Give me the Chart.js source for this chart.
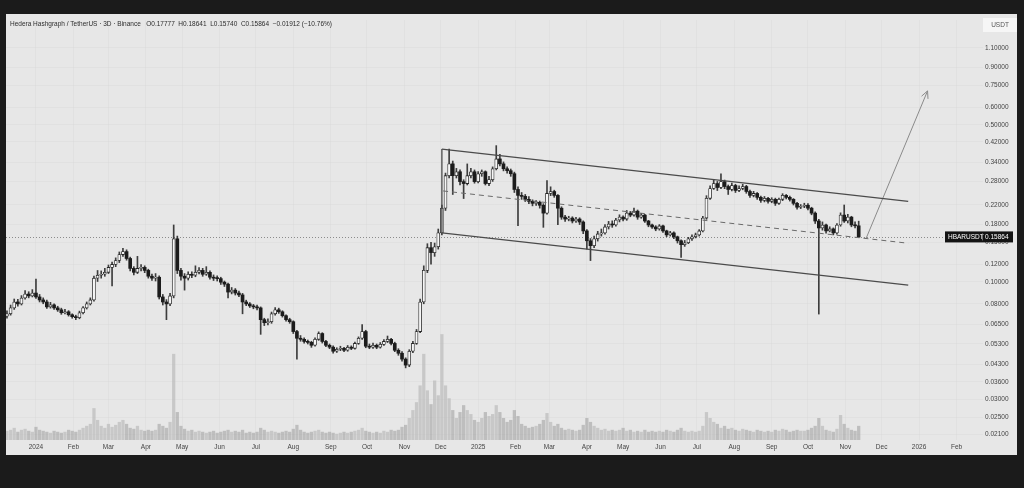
<!DOCTYPE html>
<html>
<head>
<meta charset="utf-8">
<script src="https://cdn.jsdelivr.net/npm/chart.js@4.4.1/dist/chart.umd.min.js"></script>
<style>
  html, body { margin: 0; padding: 0; width: 1024px; height: 488px; overflow: hidden; background: #1b1b1b; }
  #panel { position: absolute; left: 6px; top: 14px; width: 1011px; height: 441px; background: #e7e7e7; }
  #chart { position: absolute; left: 0; top: 0; }
</style>
</head>
<body>
<div id="panel"><canvas id="chart" width="1011" height="441"></canvas></div>
<script>
// HBAR/USDT 3D candles, first candle 2023-12-08, one every 3 days
const symbol = 'HBARUSDT';
const headerText = 'Hedera Hashgraph / TetherUS · 3D · Binance   O0.17777  H0.18641  L0.15740  C0.15864  −0.01912 (−10.76%)';
const startDate = '2023-12-08';
const firstOpen = 0.0705;

const closes = [
    0.0722, 0.0767, 0.0815, 0.0799, 0.0849, 0.0884, 0.0867, 0.0893, 0.0858, 0.0832,
    0.0815, 0.0775, 0.0791, 0.0767, 0.0752, 0.0730, 0.0737, 0.0715, 0.0701, 0.0694,
    0.0730, 0.0767, 0.0799, 0.0832, 0.1040, 0.1071, 0.1082, 0.1104, 0.1161, 0.1197,
    0.1246, 0.1324, 0.1365, 0.1272, 0.1149, 0.1104, 0.1149, 0.1161, 0.1126, 0.1061,
    0.1040, 0.1050, 0.0858, 0.0815, 0.0799, 0.0867, 0.1556, 0.1126, 0.1061, 0.1040,
    0.1082, 0.1071, 0.1104, 0.1126, 0.1082, 0.1104, 0.1050, 0.1040, 0.1035, 0.0998,
    0.0978, 0.0902, 0.0920, 0.0893, 0.0876, 0.0815, 0.0799, 0.0783, 0.0775, 0.0767,
    0.0680, 0.0659, 0.0666, 0.0722, 0.0752, 0.0737, 0.0708, 0.0680, 0.0666, 0.0602,
    0.0562, 0.0556, 0.0544, 0.0539, 0.0523, 0.0556, 0.0590, 0.0544, 0.0523, 0.0513,
    0.0492, 0.0502, 0.0507, 0.0497, 0.0513, 0.0507, 0.0533, 0.0562, 0.0602, 0.0518,
    0.0513, 0.0523, 0.0513, 0.0528, 0.0544, 0.0556, 0.0533, 0.0497, 0.0482, 0.0454,
    0.0427, 0.0492, 0.0533, 0.0602, 0.0815, 0.1126, 0.1421, 0.1351, 0.1435, 0.1653,
    0.2129, 0.2970, 0.3352, 0.2970, 0.3092, 0.2795, 0.2740, 0.2970, 0.3092, 0.2795,
    0.3030, 0.3092, 0.2740, 0.2853, 0.3188, 0.3526, 0.3352, 0.3188, 0.3125, 0.3030,
    0.2579, 0.2427, 0.2403, 0.2331, 0.2284, 0.2238, 0.2261, 0.2194, 0.2024, 0.2476,
    0.2526, 0.2427, 0.2129, 0.1943, 0.1905, 0.1924, 0.1867, 0.1905, 0.1848, 0.1687,
    0.1525, 0.1450, 0.1556, 0.1636, 0.1653, 0.1757, 0.1811, 0.1793, 0.1886, 0.1943,
    0.1905, 0.2024, 0.1984, 0.2065, 0.1943, 0.1984, 0.1867, 0.1793, 0.1757, 0.1722,
    0.1775, 0.1687, 0.1620, 0.1653, 0.1588, 0.1525, 0.1465, 0.1495, 0.1556, 0.1588,
    0.1620, 0.1687, 0.1924, 0.2355, 0.2605, 0.2740, 0.2631, 0.2795, 0.2658, 0.2579,
    0.2686, 0.2553, 0.2605, 0.2658, 0.2526, 0.2427, 0.2476, 0.2379, 0.2307, 0.2355,
    0.2284, 0.2331, 0.2238, 0.2331, 0.2427, 0.2379, 0.2331, 0.2238, 0.2150, 0.2172,
    0.2194, 0.2129, 0.2024, 0.1867, 0.1739, 0.1793, 0.1687, 0.1722, 0.1653, 0.1793,
    0.1984, 0.1867, 0.1943, 0.1793, 0.17777, 0.15864
];

const highs = [
    0.0745, 0.0790, 0.0840, 0.0838, 0.0870, 0.0915, 0.0905, 0.0925, 0.1030, 0.0880,
    0.0850, 0.0830, 0.0812, 0.0800, 0.0780, 0.0765, 0.0755, 0.0746, 0.0722, 0.0712,
    0.0742, 0.0778, 0.0815, 0.0850, 0.1062, 0.1125, 0.1120, 0.1150, 0.1190, 0.1225,
    0.1280, 0.1360, 0.1410, 0.1390, 0.1290, 0.1170, 0.1300, 0.1195, 0.1180, 0.1140,
    0.1085, 0.1090, 0.1065, 0.0880, 0.0835, 0.0890, 0.1793, 0.1600, 0.1150, 0.1090,
    0.1110, 0.1110, 0.1180, 0.1160, 0.1150, 0.1170, 0.1120, 0.1075, 0.1065, 0.1050,
    0.1010, 0.0990, 0.0945, 0.0935, 0.0910, 0.0890, 0.0830, 0.0810, 0.0795, 0.0790,
    0.0775, 0.0690, 0.0685, 0.0735, 0.0770, 0.0765, 0.0745, 0.0715, 0.0690, 0.0672,
    0.0610, 0.0578, 0.0565, 0.0552, 0.0545, 0.0565, 0.0600, 0.0595, 0.0550, 0.0530,
    0.0520, 0.0510, 0.0518, 0.0512, 0.0522, 0.0520, 0.0540, 0.0570, 0.0646, 0.0610,
    0.0530, 0.0535, 0.0530, 0.0538, 0.0555, 0.0575, 0.0562, 0.0540, 0.0505, 0.0490,
    0.0460, 0.0500, 0.0545, 0.0615, 0.0840, 0.1180, 0.1480, 0.1500, 0.1490, 0.1720,
    0.2200, 0.3050, 0.3900, 0.3450, 0.3200, 0.3150, 0.2850, 0.3350, 0.3200, 0.3150,
    0.3100, 0.3150, 0.3120, 0.2950, 0.3250, 0.4040, 0.3700, 0.3420, 0.3250, 0.3180,
    0.3080, 0.2650, 0.2500, 0.2450, 0.2400, 0.2320, 0.2300, 0.2290, 0.2230, 0.2825,
    0.2650, 0.2560, 0.2450, 0.2160, 0.1980, 0.1960, 0.1950, 0.1940, 0.1930, 0.1870,
    0.1710, 0.1560, 0.1600, 0.1680, 0.1720, 0.1800, 0.1860, 0.1870, 0.1920, 0.1990,
    0.1970, 0.2080, 0.2060, 0.2130, 0.2090, 0.2020, 0.2000, 0.1880, 0.1810, 0.1780,
    0.1800, 0.1790, 0.1700, 0.1680, 0.1670, 0.1600, 0.1540, 0.1530, 0.1580, 0.1620,
    0.1650, 0.1710, 0.1960, 0.2420, 0.2680, 0.2850, 0.2800, 0.3030, 0.2840, 0.2700,
    0.2750, 0.2720, 0.2680, 0.2720, 0.2690, 0.2560, 0.2530, 0.2500, 0.2410, 0.2400,
    0.2380, 0.2370, 0.2360, 0.2360, 0.2470, 0.2450, 0.2410, 0.2350, 0.2260, 0.2210,
    0.2240, 0.2230, 0.2150, 0.2050, 0.1900, 0.1850, 0.1810, 0.1760, 0.1740, 0.1820,
    0.2030, 0.2200, 0.2000, 0.1960, 0.1850, 0.18641
];

const lows = [
    0.0690, 0.0712, 0.0755, 0.0780, 0.0790, 0.0838, 0.0850, 0.0858, 0.0845, 0.0815,
    0.0800, 0.0762, 0.0765, 0.0755, 0.0740, 0.0718, 0.0722, 0.0705, 0.0690, 0.0680,
    0.0686, 0.0722, 0.0758, 0.0790, 0.0822, 0.1005, 0.1040, 0.1060, 0.1090, 0.0960,
    0.1170, 0.1220, 0.1300, 0.1250, 0.1120, 0.1075, 0.1090, 0.1120, 0.1100, 0.1040,
    0.1015, 0.1010, 0.0840, 0.0790, 0.0680, 0.0785, 0.0850, 0.1090, 0.1020, 0.0920,
    0.1020, 0.1045, 0.1055, 0.1085, 0.1060, 0.1070, 0.1030, 0.1015, 0.1010, 0.0975,
    0.0955, 0.0850, 0.0885, 0.0875, 0.0860, 0.0722, 0.0785, 0.0770, 0.0760, 0.0752,
    0.0585, 0.0640, 0.0645, 0.0655, 0.0712, 0.0725, 0.0698, 0.0670, 0.0655, 0.0590,
    0.0454, 0.0545, 0.0535, 0.0530, 0.0512, 0.0518, 0.0550, 0.0535, 0.0515, 0.0505,
    0.0482, 0.0486, 0.0495, 0.0490, 0.0492, 0.0500, 0.0503, 0.0528, 0.0555, 0.0510,
    0.0505, 0.0506, 0.0505, 0.0508, 0.0522, 0.0538, 0.0525, 0.0490, 0.0472, 0.0445,
    0.0415, 0.0420, 0.0485, 0.0528, 0.0595, 0.0800, 0.1100, 0.1200, 0.1300, 0.1400,
    0.1620, 0.2080, 0.2900, 0.2450, 0.2900, 0.2700, 0.2350, 0.2700, 0.2900, 0.2750,
    0.2760, 0.2950, 0.2700, 0.2680, 0.2800, 0.3150, 0.3280, 0.3120, 0.3050, 0.2950,
    0.2500, 0.1780, 0.2330, 0.2280, 0.2230, 0.2180, 0.2190, 0.2130, 0.1750, 0.2000,
    0.2420, 0.2380, 0.1800, 0.1900, 0.1860, 0.1870, 0.1830, 0.1840, 0.1800, 0.1640,
    0.1400, 0.1245, 0.1420, 0.1520, 0.1600, 0.1630, 0.1720, 0.1750, 0.1770, 0.1850,
    0.1870, 0.1880, 0.1950, 0.1960, 0.1900, 0.1920, 0.1840, 0.1760, 0.1730, 0.1690,
    0.1700, 0.1660, 0.1590, 0.1600, 0.1560, 0.1490, 0.1285, 0.1440, 0.1480, 0.1530,
    0.1570, 0.1600, 0.1670, 0.1900, 0.2330, 0.2580, 0.2550, 0.2600, 0.2600, 0.2450,
    0.2540, 0.2500, 0.2520, 0.2570, 0.2480, 0.2380, 0.2390, 0.2330, 0.2260, 0.2270,
    0.2240, 0.2250, 0.2190, 0.2210, 0.2300, 0.2340, 0.2290, 0.2200, 0.2110, 0.2120,
    0.2140, 0.2090, 0.1990, 0.1820, 0.0720, 0.1700, 0.1650, 0.1670, 0.1620, 0.1630,
    0.1770, 0.1840, 0.1830, 0.1760, 0.1740, 0.15740
];

const volumes = [
    90, 100, 120, 80, 100, 110, 90, 80, 130, 100,
    90, 80, 70, 90, 80, 70, 80, 100, 90, 80,
    100, 120, 140, 160, 320, 200, 140, 120, 160, 130,
    150, 180, 200, 160, 120, 110, 140, 100, 90, 100,
    90, 100, 160, 140, 120, 180, 870, 280, 140, 110,
    90, 100, 80, 90, 80, 70, 80, 90, 70, 80,
    90, 100, 80, 90, 80, 100, 70, 80, 70, 80,
    120, 100, 80, 90, 80, 70, 80, 90, 80, 110,
    150, 100, 80, 70, 80, 90, 100, 80, 70, 80,
    70, 60, 70, 80, 70, 80, 90, 100, 120, 90,
    80, 70, 80, 70, 90, 80, 100, 90, 100, 130,
    150, 220, 300, 380, 550, 870, 500, 360, 600, 450,
    1070, 550, 420, 300, 220, 280, 350, 300, 260, 200,
    180, 220, 280, 240, 260, 350, 280, 220, 180, 200,
    300, 240, 160, 140, 120, 130, 140, 160, 200, 270,
    180, 140, 160, 120, 100, 110, 100, 90, 100, 150,
    220, 180, 140, 120, 100, 110, 90, 100, 90, 100,
    120, 90, 100, 80, 90, 80, 100, 80, 90, 80,
    90, 80, 100, 90, 80, 100, 120, 90, 80, 90,
    80, 90, 140, 280, 220, 180, 160, 120, 140, 110,
    120, 100, 90, 110, 100, 90, 80, 100, 90, 80,
    90, 80, 100, 90, 110, 100, 80, 90, 100, 90,
    90, 100, 120, 140, 220, 140, 100, 90, 80, 110,
    250, 160, 120, 100, 90, 140
];

// axis ticks
const priceTicks = [1.1, 0.9, 0.75, 0.6, 0.5, 0.42, 0.34, 0.28, 0.22, 0.18, 0.15,
    0.12, 0.10, 0.08, 0.065, 0.053, 0.043, 0.036, 0.030, 0.025, 0.021];
const monthDates = ['2024-01-01', '2024-02-01', '2024-03-01', '2024-04-01', '2024-05-01', '2024-06-01',
    '2024-07-01', '2024-08-01', '2024-09-01', '2024-10-01', '2024-11-01', '2024-12-01',
    '2025-01-01', '2025-02-01', '2025-03-01', '2025-04-01', '2025-05-01', '2025-06-01',
    '2025-07-01', '2025-08-01', '2025-09-01', '2025-10-01', '2025-11-01', '2025-12-01',
    '2026-01-01', '2026-02-01'];
const monthLabels = ['2024', 'Feb', 'Mar', 'Apr', 'May', 'Jun', 'Jul', 'Aug', 'Sep', 'Oct', 'Nov', 'Dec',
    '2025', 'Feb', 'Mar', 'Apr', 'May', 'Jun', 'Jul', 'Aug', 'Sep', 'Oct', 'Nov', 'Dec',
    '2026', 'Feb'];

// drawn channel (date, price)
const channelUpper = [['2024-12-02', 0.390], ['2025-12-23', 0.2284]];
const channelLower = [['2024-12-02', 0.1653], ['2025-12-23', 0.0968]];
const channelEdge = [['2024-12-02', 0.390], ['2024-12-02', 0.1653]];
const channelMid = [['2024-12-03', 0.2540], ['2025-12-23', 0.1487]];
const arrowPath = [['2025-11-18', 0.1556], ['2026-01-08', 0.7076]];

// view range (days from 2025-01-01)
const viewMin = -390.8;
const viewMax = 417.9;

const DAY = 86400000;
const ORIGIN = Date.UTC(2025, 0, 1);
function dayOf(s) {
    const [yy, mm, dd] = s.split('-').map(Number);
    return (Date.UTC(yy, mm - 1, dd) - ORIGIN) / DAY;
}

const day0 = dayOf(startDate);
const candleDays = closes.map((c, i) => day0 + 3 * i);
const opens = closes.map((c, i) => i === 0 ? firstOpen : closes[i - 1]);
const isUp = closes.map((c, i) => c >= opens[i]);
const lastClose = closes[closes.length - 1];
const monthDays = monthDates.map(dayOf);
const toPts = arr => arr.map(p => ({ x: dayOf(p[0]), y: p[1] }));

const FONT = 'Liberation Sans';

function lineSet(points, color, width, dash) {
    return {
        type: 'line',
        data: toPts(points),
        borderColor: color,
        borderWidth: width,
        borderDash: dash || [],
        pointRadius: 0,
        fill: false,
        tension: 0,
        yAxisID: 'y',
        order: 0
    };
}

const overlay = {
    id: 'overlay',
    beforeDatasetsDraw(chart) {
        const { ctx, chartArea: a, scales: { y } } = chart;
        const py = Math.round(y.getPixelForValue(lastClose)) + 0.5;
        ctx.save();
        ctx.strokeStyle = '#8c8c8c';
        ctx.lineWidth = 1;
        ctx.setLineDash([1, 2]);
        ctx.beginPath();
        ctx.moveTo(a.left, py);
        ctx.lineTo(a.right, py);
        ctx.stroke();
        ctx.restore();
    },
    afterDatasetsDraw(chart) {
        // arrow head
        const { ctx, scales: { x, y } } = chart;
        const p0 = toPts(arrowPath);
        const x1 = x.getPixelForValue(p0[0].x), y1 = y.getPixelForValue(p0[0].y);
        const x2 = x.getPixelForValue(p0[1].x), y2 = y.getPixelForValue(p0[1].y);
        const ang = Math.atan2(y2 - y1, x2 - x1);
        const len = 8;
        ctx.save();
        ctx.strokeStyle = '#8a8a8a';
        ctx.lineWidth = 1;
        ctx.beginPath();
        ctx.moveTo(x2 - len * Math.cos(ang - 0.45), y2 - len * Math.sin(ang - 0.45));
        ctx.lineTo(x2, y2);
        ctx.lineTo(x2 - len * Math.cos(ang + 0.45), y2 - len * Math.sin(ang + 0.45));
        ctx.stroke();
        ctx.restore();
    },
    afterDraw(chart) {
        const { ctx, chartArea: a, scales: { y } } = chart;
        ctx.save();
        // header
        ctx.font = '6.5px "' + FONT + '"';
        ctx.fillStyle = '#2c2c2c';
        ctx.textBaseline = 'middle';
        ctx.textAlign = 'left';
        ctx.fillText(headerText, 4, 10);

        // currency box
        ctx.fillStyle = '#f6f6f6';
        ctx.fillRect(a.right, 4, 34, 14);
        ctx.fillStyle = '#555';
        ctx.textAlign = 'center';
        ctx.fillText('USDT', a.right + 17, 11);

        // last price label
        const py = y.getPixelForValue(lastClose);
        ctx.fillStyle = '#141414';
        ctx.fillRect(a.right - 38, py - 5.5, 68, 11);
        ctx.fillStyle = '#ffffff';
        ctx.textAlign = 'left';
        ctx.fillText(symbol, a.right - 35, py + 0.5);
        ctx.fillStyle = '#9a9a9a';
        ctx.fillRect(a.right - 1, py - 3.5, 0.7, 7);
        ctx.fillStyle = '#ffffff';
        ctx.fillText(lastClose.toFixed(5), a.right + 2, py + 0.5);
        ctx.restore();
    }
};

new Chart(document.getElementById('chart'), {
    type: 'bar',
    data: {
        datasets: [
            lineSet(channelUpper, '#4b4b4b', 1.3),
            lineSet(channelLower, '#4b4b4b', 1.3),
            lineSet(channelEdge, '#4b4b4b', 1.3),
            lineSet(channelMid, '#6a6a6a', 1, [5, 4]),
            lineSet(arrowPath, '#8a8a8a', 1),
            {
                type: 'bar',
                label: 'body',
                data: candleDays.map((d, i) => ({ x: d, y: [opens[i], closes[i]] })),
                backgroundColor: candleDays.map((d, i) => isUp[i] ? '#f6f6f6' : '#1c1c1c'),
                borderColor: '#262626',
                borderWidth: candleDays.map((d, i) => isUp[i] ? 0.8 : 0),
                borderSkipped: false,
                barThickness: 3,
                minBarLength: 1,
                grouped: false,
                yAxisID: 'y',
                order: 1
            },
            {
                type: 'bar',
                label: 'wick',
                data: candleDays.map((d, i) => ({ x: d, y: [lows[i], highs[i]] })),
                backgroundColor: '#3d3d3d',
                barThickness: 1,
                grouped: false,
                yAxisID: 'y',
                order: 2
            },
            {
                type: 'bar',
                label: 'volume',
                data: candleDays.map((d, i) => ({ x: d, y: volumes[i] })),
                backgroundColor: candleDays.map((d, i) => isUp[i] ? 'rgba(175,175,175,0.55)' : 'rgba(140,140,140,0.45)'),
                barThickness: 2.6,
                grouped: false,
                yAxisID: 'yVol',
                order: 3
            }
        ]
    },
    options: {
        responsive: false,
        animation: false,
        events: [],
        layout: { padding: 0 },
        plugins: {
            legend: { display: false },
            tooltip: { enabled: false }
        },
        scales: {
            x: {
                type: 'linear',
                min: viewMin,
                max: viewMax,
                offset: false,
                border: { display: false },
                grid: { color: 'rgba(0,0,0,0.025)', drawTicks: false, offset: false },
                afterBuildTicks: scale => { scale.ticks = monthDays.map(v => ({ value: v })); },
                afterFit: scale => { scale.height = 15; },
                ticks: {
                    autoSkip: false,
                    maxRotation: 0,
                    padding: 3,
                    color: '#444',
                    font: { family: FONT, size: 6.5 },
                    callback: (v, i) => monthLabels[i]
                }
            },
            y: {
                type: 'logarithmic',
                position: 'right',
                min: 0.01983,
                max: 1.4638,
                border: { display: false },
                grid: { color: 'rgba(0,0,0,0.022)', drawTicks: false },
                afterBuildTicks: scale => { scale.ticks = priceTicks.map(v => ({ value: v })); },
                afterFit: scale => { scale.width = 34; },
                ticks: {
                    autoSkip: false,
                    padding: 2,
                    color: '#444',
                    font: { family: FONT, size: 6.5 },
                    callback: v => Number(v).toFixed(5)
                }
            },
            yVol: {
                type: 'linear',
                display: false,
                min: 0,
                max: 4260
            }
        }
    },
    plugins: [overlay]
});
</script>
</body>
</html>
